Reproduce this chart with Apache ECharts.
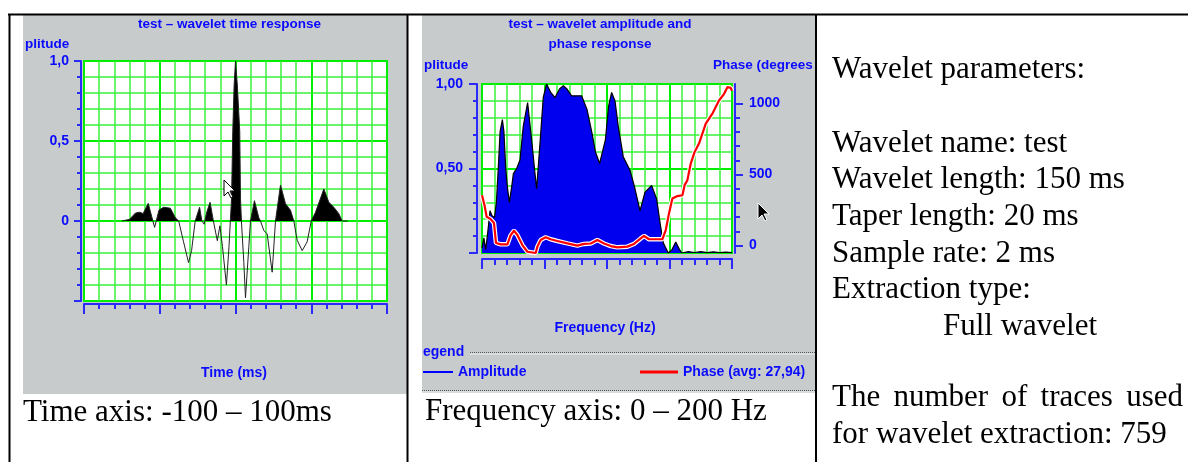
<!DOCTYPE html>
<html><head><meta charset="utf-8">
<script src="https://cdn.jsdelivr.net/npm/echarts@6/dist/echarts.min.js"></script>
<style>html,body{margin:0;padding:0;background:#fff}#c{width:1188px;height:462px}</style>
</head><body><div id="c"></div>
<script>
// ---- Wavelet time response (ms, amplitude) ----
const TIME_MS = [-75,-70,-66,-63,-61,-57.6,-53.4,-50.5,-47.5,-43,-39.7,-37.5,-34.3,-31,-29,-26.6,-23.7,-22.2,-20.7,-19,-16.8,-14.6,-12,-10.3,-8.6,-6,-4.3,-3.4,-2.6,-1.8,-0.9,0,1.2,2.8,3.3,3.9,5.5,6.6,8.8,9.9,12.5,15.4,16.5,18.7,20.9,24.2,26.4,29.7,33,36.3,38.5,40.7,44,47.3,50,52.8,58.3,61.6,64.9,68.2,70.4,74];
const WAVELET = [0,0.01,0.05,0.055,0.046,0.11,-0.04,0.068,0.086,0.08,0.02,0,-0.13,-0.26,-0.185,0,0.086,0,-0.02,0.054,0.117,0,-0.123,-0.03,-0.16,-0.40,-0.16,0,0.14,0.56,0.85,1.0,0.85,0.56,0.14,0,-0.26,-0.48,-0.16,0,0.127,0.02,0,-0.06,-0.08,-0.32,0,0.225,0.108,0.067,0,-0.12,-0.185,-0.13,0,0.054,0.2,0.117,0.086,0.046,0,0];

// ---- Amplitude spectrum (Hz, normalised amplitude) ----
const FREQ_AMP = [0,1.5,3,5,6.4,8,10,11.5,13,14.5,16.3,17.5,19,20.3,21.9,23.7,25.1,27.7,30.4,33,36.5,39.7,42.4,43.7,46.4,49,51.7,55,58.4,62,65,68,71.7,79.7,84,88,90.7,94.1,98.7,101.3,103.7,106.4,109,113,118.4,122.4,126.4,130.4,135.7,139.7,142.4,145,149,152,155,158,160,165,170,175,180,185,190,195,200];
const AMPLITUDE = [0.03,0.09,0.02,0.15,0.25,0.22,0.21,0.3,0.5,0.72,0.79,0.72,0.5,0.39,0.30,0.39,0.47,0.5,0.55,0.75,0.89,0.67,0.47,0.38,0.65,0.92,1.0,0.95,0.92,0.97,0.99,0.97,0.93,0.93,0.85,0.71,0.6,0.53,0.67,0.87,0.95,0.9,0.75,0.57,0.49,0.38,0.25,0.36,0.40,0.32,0.18,0.06,0,0.02,0.065,0.02,0,0.008,0.003,0.008,0.002,0.007,0.002,0.005,0.002];

// ---- Phase spectrum (Hz, degrees) ----
const FREQ_PHASE = [0,2,3.7,6.9,9.6,11.2,15,20.3,23,25.6,28.3,32.3,36.3,37.7,43,44.3,46.9,50.9,54.9,60.3,68.3,76.3,81.6,87,92.3,97.6,103,108.3,116.3,121.6,127,129.6,133.6,144.3,147,149.6,152.3,156.3,160.3,162.1,164.3,167,170.1,173.6,179,184.3,189.6,193.7,196.3,199,200];
const PHASE = [354,284,202,186,158,18,8,8,74,104,74,3,-44,-53,-53,-8,39,58,44,32,15,-1,11,14,39,14,-4,-13,-8,11,50,67,44,44,109,226,331,348,354,425,460,577,659,718,858,928,1021,1068,1115,1110,1090];

// ---- Tick labels ----
const TIME_Y_TICKS = [0, 0.5, 1]; const TIME_Y_LABELS = ['0', '0,5', '1,0'];
const AMP_Y_TICKS = [0.5, 1]; const AMP_Y_LABELS = ['0,50', '1,00'];
const PHASE_TICKS = [0, 500, 1000]; const PHASE_LABELS = ['0', '500', '1000'];

// ---- Texts ----
const TITLE_TIME = 'test – wavelet time response';
const TITLE_SPEC = ['test – wavelet amplitude and', 'phase response'];
const CAPTION_LEFT = 'Time axis: -100 – 100ms';
const CAPTION_MID = 'Frequency axis: 0 – 200 Hz';
const PARAM_LINES = ['Wavelet parameters:', '', 'Wavelet name: test', 'Wavelet length: 150 ms', 'Taper length: 20 ms', 'Sample rate: 2 ms', 'Extraction type:'];
const PARAM_FULL = 'Full wavelet';
const TRACES_LINE1 = 'The number of traces used';
const TRACES_LINE2 = 'for wavelet extraction: 759';
const AMP_NAME = 'Amplitude';
const PHASE_NAME = 'Phase (avg: 27,94)';

const BLUE = '#0a0aff', AXIS = '#2a2aff', GREEN = '#00ee00', MINOR = '#3cf03c', GRAY = '#c8cbcc';
const SANS = '"Liberation Sans", Arial, sans-serif';
const SERIF = '"Liberation Serif", "Times New Roman", serif';
const fmt = (ticks, labels) => v => { const i = ticks.findIndex(t => Math.abs(t - v) < 1e-9); return i >= 0 ? labels[i] : ''; };
const zip = (a, b) => a.map((x, i) => [x, b[i]]);

function axisBase(extra) {
  return Object.assign({
    type: 'value',
    axisLine: { show: true, onZero: false, lineStyle: { color: AXIS, width: 2 } },
    axisTick: { show: true, lineStyle: { color: AXIS, width: 2 } },
    minorTick: { show: true, splitNumber: 5, lineStyle: { color: AXIS, width: 2 } },
    splitLine: { show: true, lineStyle: { color: GREEN, width: 2 } },
    minorSplitLine: { show: true, lineStyle: { color: MINOR, width: 1.5 } },
    axisLabel: { show: false }
  }, extra);
}
const labelStyle = { color: BLUE, fontWeight: 'bold', fontSize: 14, fontFamily: SANS };

// positive-only fill: gradient over the area polygon's own bounding box (from data max to data min)
const wMax = Math.max(0, ...WAVELET), wMin = Math.min(0, ...WAVELET);
const zeroFrac = wMax / (wMax - wMin);
const positiveFill = new echarts.graphic.LinearGradient(0, 0, 0, 1, [
  { offset: 0, color: '#000' }, { offset: zeroFrac, color: '#000' },
  { offset: zeroFrac, color: 'rgba(0,0,0,0)' }, { offset: 1, color: 'rgba(0,0,0,0)' }
]);

// Word-like text layout helpers
const mctx = document.createElement('canvas').getContext('2d');
const SERIF_FONT = '31px ' + SERIF;
mctx.font = SERIF_FONT;
function justified(text, x0, x1, y) {
  const words = text.split(' ');
  const widths = words.map(w => mctx.measureText(w).width);
  const total = widths.reduce((a, b) => a + b, 0);
  const gap = (x1 - x0 - total) / (words.length - 1);
  let x = x0; const out = [];
  words.forEach((w, i) => { out.push(txt(w, x, y, SERIF_FONT, '#000', 'left')); x += widths[i] + gap; });
  return out;
}
function txt(text, x, y, font, fill, align) {
  return { type: 'text', x: x, y: y, z: 20, silent: true,
    style: { text: text, font: font, fill: fill, align: align || 'left', verticalAlign: 'middle' } };
}
function line(x1, y1, x2, y2, stroke, w, dash) {
  return { type: 'line', z: 20, silent: true, shape: { x1, y1, x2, y2 },
    style: { stroke: stroke, lineWidth: w, lineDash: dash || null } };
}
// mouse-pointer arrows captured in the screenshot
const ARROW = [[0, 0], [0, 16], [4, 12], [7, 18], [9, 17], [6, 11], [11, 11]];
function cursor(x, y, fill, stroke) {
  return { type: 'polygon', x: x, y: y, z: 30, silent: true, shape: { points: ARROW },
    style: { fill: fill, stroke: stroke, lineWidth: 1 } };
}

const graphics = [
  { type: 'rect', z: -10, silent: true, shape: { x: 23, y: 15, width: 384, height: 379 }, style: { fill: GRAY } },
  { type: 'rect', z: -10, silent: true, shape: { x: 422, y: 15, width: 393, height: 378 }, style: { fill: GRAY } },
  // table borders
  line(8, 14.5, 1188, 14.5, '#000', 2),
  line(9.5, 14, 9.5, 462, '#000', 2),
  line(407.5, 14, 407.5, 462, '#000', 2),
  line(816, 14, 816, 462, '#000', 2),
  // chart texts
  txt(TITLE_TIME, 229.5, 24, 'bold 13.5px ' + SANS, BLUE, 'center'),
  txt('plitude', 25, 44, 'bold 13.5px ' + SANS, BLUE),
  txt('Time (ms)', 234, 373, 'bold 14px ' + SANS, BLUE, 'center'),
  txt(TITLE_SPEC[0], 600, 24, 'bold 13.5px ' + SANS, BLUE, 'center'),
  txt(TITLE_SPEC[1], 600, 44, 'bold 13.5px ' + SANS, BLUE, 'center'),
  txt('plitude', 424, 65, 'bold 13.5px ' + SANS, BLUE),
  txt('Phase (degrees', 713, 65, 'bold 13.5px ' + SANS, BLUE),
  txt('Frequency (Hz)', 605, 328, 'bold 14px ' + SANS, BLUE, 'center'),
  txt('egend', 423, 352, 'bold 14px ' + SANS, BLUE),
  line(470, 352.5, 815, 352.5, '#555', 1, [1, 1]),
  line(470, 354, 815, 354, '#eee', 1),
  line(422, 390.5, 815, 390.5, '#555', 1, [1, 1]),
  line(422, 392, 815, 392, '#eee', 1),
  cursor(224, 180, '#fff', '#000'),
  cursor(758, 203, '#000', '#fff'),
  // word document texts
  txt(CAPTION_LEFT, 23, 413, SERIF_FONT, '#000'),
  txt(CAPTION_MID, 425, 412, SERIF_FONT, '#000'),
  txt(PARAM_FULL, 943, 327, SERIF_FONT, '#000'),
  txt(TRACES_LINE2, 832, 435, SERIF_FONT, '#000')
];
PARAM_LINES.forEach((s, i) => { if (s) graphics.push(txt(s, 832, 70 + i * 36.7, SERIF_FONT, '#000')); });
justified(TRACES_LINE1, 832, 1183, 398).forEach(g => graphics.push(g));

const chart = echarts.init(document.getElementById('c'), null, { renderer: 'canvas' });
chart.setOption({
  animation: false,
  backgroundColor: '#fff',
  graphic: graphics,
  grid: [
    { left: 84, top: 61, width: 303, height: 240, show: true, backgroundColor: '#fff', borderColor: GREEN, borderWidth: 2 },
    { left: 482, top: 84, width: 250, height: 169, show: true, backgroundColor: '#fff', borderColor: GREEN, borderWidth: 2 },
    { left: 482, top: 103.5, width: 250, height: 142, show: false }
  ],
  xAxis: [
    axisBase({ gridIndex: 0, min: -100, max: 100, interval: 50, offset: 3,
      axisTick: { show: true, length: 10, lineStyle: { color: AXIS, width: 2 } },
      minorTick: { show: true, splitNumber: 5, length: 5, lineStyle: { color: AXIS, width: 2 } } }),
    axisBase({ gridIndex: 1, min: 0, max: 200, interval: 50, offset: 6,
      axisTick: { show: true, length: 10, lineStyle: { color: AXIS, width: 2 } },
      minorTick: { show: true, splitNumber: 5, length: 6, lineStyle: { color: AXIS, width: 2 } } }),
    { type: 'value', gridIndex: 2, min: 0, max: 200, show: false }
  ],
  yAxis: [
    axisBase({ gridIndex: 0, min: -0.5, max: 1, interval: 0.5, offset: 3,
      axisTick: { show: true, length: 7, lineStyle: { color: AXIS, width: 2 } },
      minorTick: { show: true, splitNumber: 5, length: 4, lineStyle: { color: AXIS, width: 2 } },
      axisLabel: Object.assign({ show: true, margin: 12, formatter: fmt(TIME_Y_TICKS, TIME_Y_LABELS) }, labelStyle) }),
    axisBase({ gridIndex: 1, min: 0, max: 1, interval: 0.5, offset: 5, position: 'left',
      axisTick: { show: true, length: 8, lineStyle: { color: AXIS, width: 2 } },
      minorTick: { show: true, splitNumber: 5, length: 4, lineStyle: { color: AXIS, width: 2 } },
      axisLabel: Object.assign({ show: true, margin: 14, formatter: fmt(AMP_Y_TICKS, AMP_Y_LABELS) }, labelStyle) }),
    { type: 'value', gridIndex: 1, min: 0, max: 1, position: 'right', offset: 3,
      axisLine: { show: true, onZero: false, lineStyle: { color: AXIS, width: 2 } },
      axisTick: { show: false }, axisLabel: { show: false }, splitLine: { show: false } },
    { type: 'value', gridIndex: 2, min: 0, max: 1000, interval: 500, position: 'right', offset: 3,
      axisLine: { show: false, onZero: false },
      axisTick: { show: true, length: 8, lineStyle: { color: AXIS, width: 2 } },
      minorTick: { show: true, splitNumber: 5, length: 5, lineStyle: { color: AXIS, width: 2 } },
      splitLine: { show: false }, minorSplitLine: { show: false },
      axisLabel: Object.assign({ show: true, margin: 14, formatter: fmt(PHASE_TICKS, PHASE_LABELS) }, labelStyle) }
  ],
  legend: [
    { data: [{ name: AMP_NAME, itemStyle: { color: '#0000ff', borderWidth: 0 } }], left: 423, top: 365, padding: 0,
      icon: 'rect', itemWidth: 30, itemHeight: 2, textStyle: labelStyle, selectedMode: false },
    { data: [{ name: PHASE_NAME, itemStyle: { color: '#ff0000', borderWidth: 0 } }], left: 640, top: 365, padding: 0,
      icon: 'rect', itemWidth: 38, itemHeight: 3, textStyle: labelStyle, selectedMode: false }
  ],
  series: [
    { type: 'line', name: 'wavelet-fill', xAxisIndex: 0, yAxisIndex: 0, data: zip(TIME_MS, WAVELET),
      symbol: 'none', lineStyle: { width: 0 }, areaStyle: { color: positiveFill, opacity: 1 }, z: 3 },
    { type: 'line', name: 'wavelet', xAxisIndex: 0, yAxisIndex: 0, data: zip(TIME_MS, WAVELET),
      symbol: 'none', lineStyle: { color: '#222', width: 1 }, z: 4 },
    { type: 'line', name: AMP_NAME, xAxisIndex: 1, yAxisIndex: 1, data: zip(FREQ_AMP, AMPLITUDE),
      symbol: 'none', itemStyle: { color: '#0000ff' }, lineStyle: { color: '#000', width: 1.2 },
      areaStyle: { color: '#0000ee', opacity: 1 }, z: 3 },
    { type: 'line', name: 'phase-halo', xAxisIndex: 2, yAxisIndex: 3, data: zip(FREQ_PHASE, PHASE),
      symbol: 'none', clip: false, lineStyle: { color: '#ffffff', width: 4.5 }, z: 5 },
    { type: 'line', name: PHASE_NAME, xAxisIndex: 2, yAxisIndex: 3, data: zip(FREQ_PHASE, PHASE),
      symbol: 'none', clip: false, itemStyle: { color: '#ff0000' }, lineStyle: { color: '#ff0000', width: 2.2 }, z: 6 }
  ]
});
</script></body></html>
